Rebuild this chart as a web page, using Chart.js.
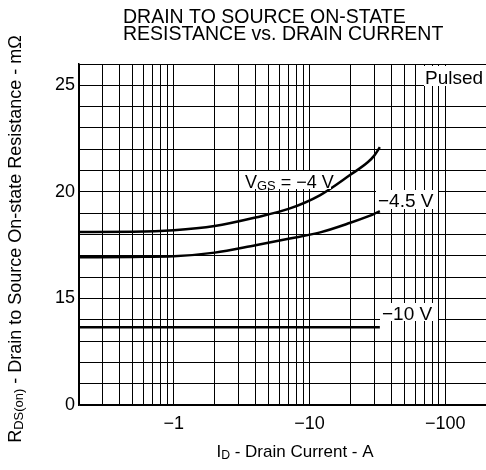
<!DOCTYPE html>
<html>
  <head>
    <meta charset="utf-8">
    <title>Drain to Source On-State Resistance vs. Drain Current</title>
    <style>
      html, body { margin: 0; padding: 0; background: #fff; }
      #wrap { width: 486px; height: 470px; }
    </style>
  </head>
  <body>
    <div id="wrap"><canvas id="myChart" width="486" height="470"></canvas></div>

    <script src="https://cdn.jsdelivr.net/npm/chart.js@4/dist/chart.umd.min.js"></script>
    <script type="text/javascript">
      // |ID| in A (plotted on a log axis, shown as negative labels)
      const current = [0.2, 0.5, 1, 2, 4, 7, 12, 20, 27, 30, 33];
      const rdsVgs4 = [18.12, 18.13, 18.2, 18.4, 18.8, 19.2, 19.85, 20.8, 21.4, 21.7, 22.1];
      const rdsVgs45 = [16.93, 16.95, 16.98, 17.15, 17.5, 17.8, 18.1, 18.55, 18.85, 18.97, 19.1];
      const current10 = [0.2, 33];
      const rdsVgs10 = [13.65, 13.65];
      const xLabels = [1, 10, 100];
      const yLabels = [15, 20, 25];   // bottom line (10) is labelled "0"

      const FONT = "'Liberation Sans', Arial, sans-serif";

      function pts(xs, ys) {
        return xs.map((x, i) => ({ x: x, y: ys[i] }));
      }

      // text with a subscript part: parts = [[text, sub?], ...]
      function drawParts(c, parts, x, y, size, align) {
        let total = 0;
        parts.forEach(p => {
          c.font = (p[1] ? size * 0.72 : size) + 'px ' + FONT;
          total += c.measureText(p[0]).width;
        });
        let cx = align === 'center' ? x - total / 2 : x;
        parts.forEach(p => {
          c.font = (p[1] ? size * 0.72 : size) + 'px ' + FONT;
          c.textAlign = 'left';
          c.textBaseline = 'alphabetic';
          c.fillText(p[0], cx, y + (p[1] ? size * 0.12 : 0));
          cx += c.measureText(p[0]).width;
        });
        return total;
      }

      const labelsPlugin = {
        id: 'labels',
        afterDraw(chart) {
          const c = chart.ctx;
          c.save();
          c.fillStyle = '#000';

          // title
          c.font = '19.5px ' + FONT;
          c.textAlign = 'left';
          c.textBaseline = 'middle';
          c.fillText('DRAIN TO SOURCE ON-STATE', 123, 18);
          c.fillText('RESISTANCE vs. DRAIN CURRENT', 123, 35);

          // boxed curve labels
          function box(x, y, w, h) {
            c.fillStyle = '#fff';
            c.fillRect(x, y, w, h);
            c.fillStyle = '#000';
          }
          box(241, 171, 90, 18);
          drawParts(c, [['V', false], ['GS', true], [' = \u22124 V', false]], 245, 188, 18, 'left');
          box(376, 190, 62, 19);
          drawParts(c, [['\u22124.5 V', false]], 378, 207, 19, 'left');
          box(380, 303, 58, 18);
          drawParts(c, [['\u221210 V', false]], 382, 320, 19, 'left');
          box(424, 66, 62, 20);
          drawParts(c, [['Pulsed', false]], 425, 84, 19, 'left');

          // axis titles
          drawParts(c, [['I', false], ['D', true], [' - Drain Current - A', false]], 295, 457, 17, 'center');
          c.translate(21, 239);
          c.rotate(-Math.PI / 2);
          drawParts(c, [['R', false], ['DS(on)', true], [' - Drain to Source On-state Resistance - m\u03a9', false]], 0, 0, 18, 'center');
          c.restore();
        }
      };

      const lineStyle = {
        borderColor: '#000',
        borderWidth: 2.5,
        pointRadius: 0,
        fill: false,
        cubicInterpolationMode: 'monotone'
      };

      const ctx = document.getElementById('myChart').getContext('2d');
      const chart = new Chart(ctx, {
        type: 'line',
        data: {
          datasets: [
            Object.assign({ label: 'VGS = -4 V', data: pts(current, rdsVgs4) }, lineStyle),
            Object.assign({ label: 'VGS = -4.5 V', data: pts(current, rdsVgs45) }, lineStyle),
            Object.assign({ label: 'VGS = -10 V', data: pts(current10, rdsVgs10) }, lineStyle)
          ]
        },
        options: {
          responsive: false,
          animation: false,
          layout: { padding: { top: 64, right: 0, left: 0, bottom: 0 } },
          plugins: {
            legend: { display: false },
            title: { display: false },
            tooltip: { enabled: false }
          },
          scales: {
            x: {
              type: 'logarithmic',
              min: 0.2,
              max: 200,
              afterFit(scale) {
                scale.height = 65;
                scale.paddingLeft = 0;
                scale.paddingRight = 0;
              },
              afterBuildTicks(scale) {
                const t = [];
                for (let e = -1; e <= 2; e++) {
                  for (let d = 1; d <= 9; d++) {
                    const v = +(d * Math.pow(10, e)).toPrecision(3);
                    if (v >= 0.2 && v <= 200) t.push({ value: v });
                  }
                }
                scale.ticks = t;
              },
              grid: { color: '#000', lineWidth: 1, drawTicks: false },
              border: { color: '#000', width: 1.5 },
              ticks: {
                autoSkip: false,
                maxRotation: 0,
                padding: 8,
                color: '#000',
                font: { family: FONT, size: 18 },
                callback: v => xLabels.includes(v) ? '\u2212' + v : ''
              }
            },
            y: {
              min: 10,
              max: 26,
              afterFit(scale) { scale.width = 79; },
              grid: { color: '#000', lineWidth: 1, drawTicks: false },
              border: { color: '#000', width: 1.5 },
              ticks: {
                stepSize: 1,
                autoSkip: false,
                padding: 4,
                color: '#000',
                font: { family: FONT, size: 18 },
                callback: v => v === 10 ? '0' : (yLabels.includes(v) ? String(v) : '')
              }
            }
          }
        },
        plugins: [labelsPlugin]
      });
    </script>
  </body>
</html>
